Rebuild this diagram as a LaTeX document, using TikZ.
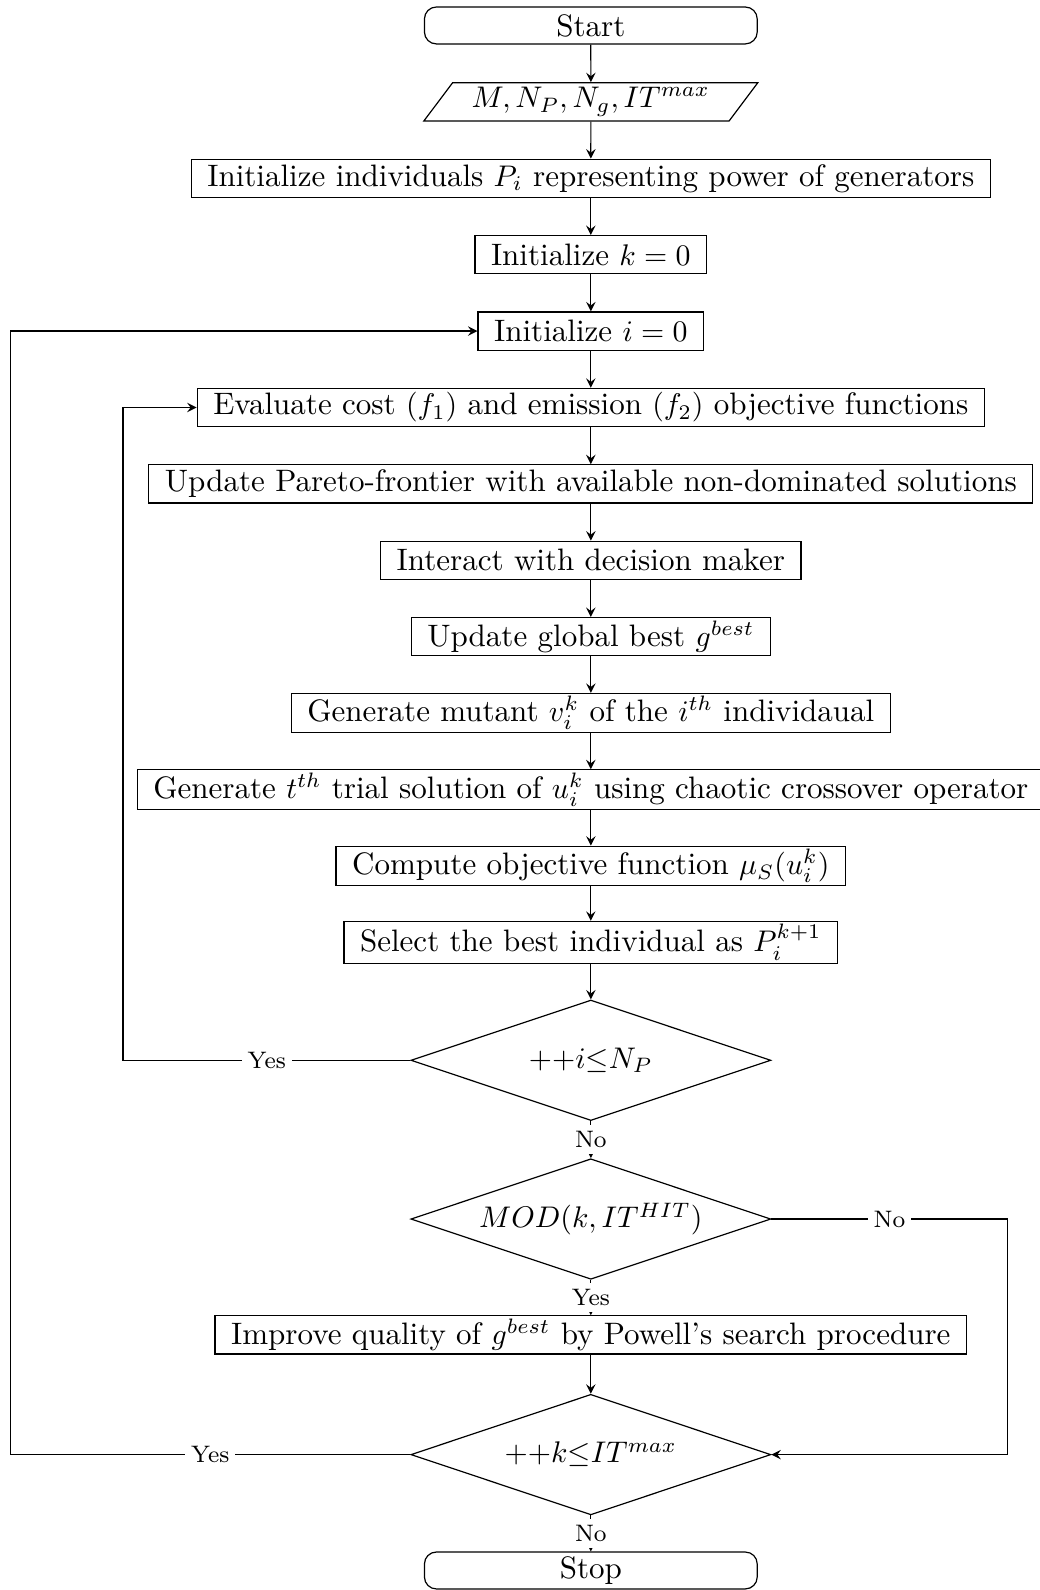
\documentclass[tikz,border=0pt]{standalone}
\usepackage{amsmath,amssymb}
\usetikzlibrary{positioning,arrows,arrows.meta,shapes.geometric,shapes.misc}

\begin{document}
\begin{tikzpicture}[node distance=0.9cm, font=\fontsize{10.4}{12.5}\selectfont]
    \tikzset{
      startstop/.style = {rectangle, rounded corners, minimum width=3.92cm, minimum height=0.435cm, inner sep=1.5pt, text centered, draw=black},
      io/.style = {trapezium, trapezium left angle=54, trapezium right angle=126, trapezium stretches=true, minimum width=3.94cm, minimum height=0.45cm, inner sep=1pt, text centered, draw=black},
      process/.style = {rectangle, minimum height=0.45cm, inner xsep=5.4pt, inner ysep=1pt, text centered, draw=black},
      decision/.style = {diamond, minimum width=4.24cm, minimum height=1.42cm, inner sep=0pt, text centered, draw=black, aspect=3},
      lbl/.style = {fill=white, font=\footnotesize, inner sep=2pt},
      arrow/.style = {->,>=stealth}
    }
    \useasboundingbox (-6.96,0.3) rectangle (5.29,-18.43);

    \node (start) at (0,0) [startstop] {Start};
    \node (input) [io, below of=start] {$M, N_P, N_g, IT^{max}$};
    \node (init_pop) [process, below of=input] {Initialize individuals $P_i$ representing power of generators};
    \node (init_k) [process, below of=init_pop] {Initialize $k=0$};
    \node (init_i) [process, below of=init_k] {Initialize $i=0$};
    \node (evaluate) [process, below of=init_i] {Evaluate cost $(f_1)$ and emission $(f_2)$ objective functions};
    \node (pareto) [process, below of=evaluate] {Update Pareto-frontier with available non-dominated solutions};
    \node (interact) [process, below of=pareto] {Interact with decision maker};
    \node (gbest) [process, below of=interact] {Update global best $g^{best}$};
    \node (mutant) [process, below of=gbest] {Generate mutant $v_i^k$ of the $i^{th}$ individaual};
    \node (trial) [process, below of=mutant] {Generate $t^{th}$ trial solution of $u_i^k$ using chaotic crossover operator};
    \node (compute) [process, below of=trial] {Compute objective function $\mu_S(u_i^k)$};
    \node (select) [process, below of=compute] {Select the best individual as $P_i^{k+1}$};
    \node (check_i) [decision, below of=select, yshift=-0.49cm] {${+}{+}i{\leq}N_P$};
    \node (check_mod) [decision, below of=check_i, yshift=-0.97cm] {$MOD(k, IT^{HIT})$};
    \node (powell) [process, below of=check_mod, yshift=-0.465cm] {Improve quality of $g^{best}$ by Powell's search procedure};
    \node (check_k) [decision, below of=powell, yshift=-0.51cm] {${+}{+}k{\leq}IT^{max}$};
    \node (stop) [startstop, below of=check_k, yshift=-0.465cm] {Stop};

    % corners of the loops
    \coordinate (loop_i) at ([xshift=-5.51cm]check_i.center);
    \coordinate (loop_k) at ([xshift=-6.84cm]check_k.center);
    \coordinate (skip) at ([xshift=4.91cm]check_mod.center);

    \draw [arrow] (start) -- (input);
    \draw [arrow] (input) -- (init_pop);
    \draw [arrow] (init_pop) -- (init_k);
    \draw [arrow] (init_k) -- (init_i);
    \draw [arrow] (init_i) -- (evaluate);
    \draw [arrow] (evaluate) -- (pareto);
    \draw [arrow] (pareto) -- (interact);
    \draw [arrow] (interact) -- (gbest);
    \draw [arrow] (gbest) -- (mutant);
    \draw [arrow] (mutant) -- (trial);
    \draw [arrow] (trial) -- (compute);
    \draw [arrow] (compute) -- (select);
    \draw [arrow] (select) -- (check_i);
    \draw [arrow] (check_i) -- node[lbl] {No} (check_mod);
    \draw [arrow] (check_mod) -- node[lbl] {Yes} (powell);
    \draw [arrow] (powell) -- (check_k);
    \draw [arrow] (check_k) -- node[lbl] {No} (stop);
    \draw [arrow] (check_i.west) -- node[lbl] {Yes} (loop_i) |- (evaluate.west);
    \draw [arrow] (check_k.west) -- node[lbl] {Yes} (loop_k) |- (init_i.west);
    \draw [arrow] (check_mod.east) -- node[lbl] {No} (skip) |- (check_k.east);
\end{tikzpicture}
\end{document}
